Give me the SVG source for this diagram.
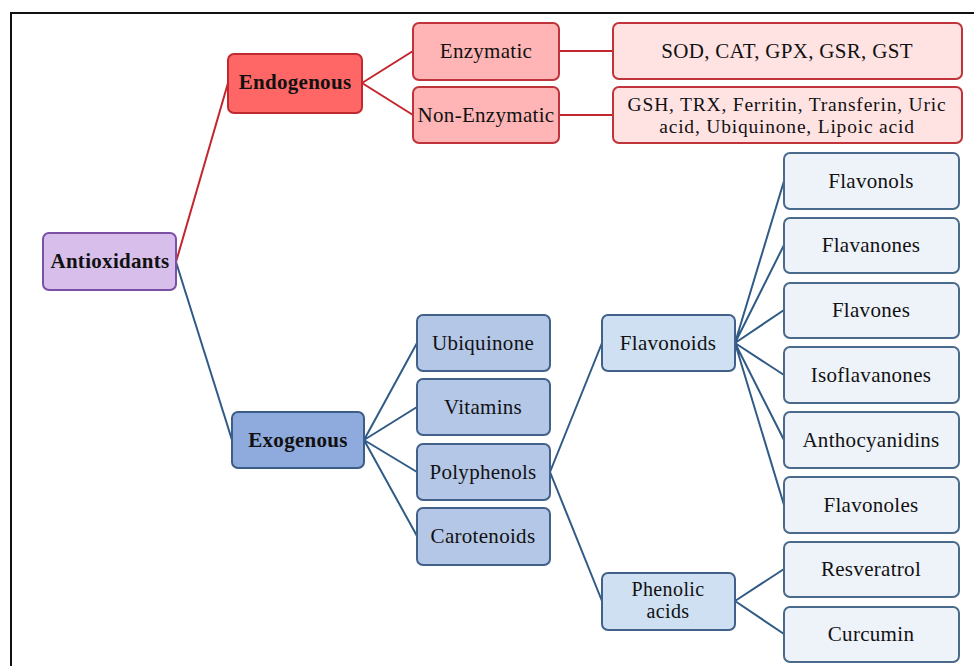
<svg xmlns="http://www.w3.org/2000/svg" width="974" height="666" viewBox="0 0 974 666">
<style>
text{font-family:'Liberation Serif','Times New Roman',Times,'DejaVu Serif',serif;font-size:21px;letter-spacing:0.3px;fill:#111;text-anchor:middle}
.b{font-weight:bold}
.t2{font-size:19.5px;letter-spacing:0.8px}
.t3{font-size:20px;letter-spacing:0.4px}
.n rect{rx:6;ry:6;stroke-width:2}
.purple rect{fill:#D8BFEB;stroke:#7B50A5}
.red1 rect{fill:#FF6666;stroke:#BE2A30}
.red2 rect{fill:#FFB5B5;stroke:#C0333A}
.red3 rect{fill:#FFE3E3;stroke:#C0333A}
.blue1 rect{fill:#8FAADC;stroke:#3C5D85}
.blue2 rect{fill:#B4C7E7;stroke:#41618A}
.blue3 rect{fill:#CFE0F2;stroke:#41618A}
.blue4 rect{fill:#EEF3FA;stroke:#4A6A8C}
.r{stroke:#C4242B;stroke-width:2;fill:none}
.l{stroke:#2F5B86;stroke-width:2;fill:none}
</style>
<path d="M11,666 V13 H974" fill="none" stroke="#111" stroke-width="2"/>
<g id="connectors">
<path class="r" d="M176,262 L228,83"/>
<path class="l" d="M176,262 L232,440"/>
<path class="r" d="M362,83 L413,51 M362,83 L413,115"/>
<path class="r" d="M559,51 L613,51 M559,115 L613,115"/>
<path class="l" d="M364,440 L417,343 M364,440 L417,407 M364,440 L417,472 M364,440 L417,536"/>
<path class="l" d="M550,472 L602,343 M550,472 L602,601"/>
<path class="l" d="M735,343 L784,181 M735,343 L784,245 M735,343 L784,310 M735,343 L784,375 M735,343 L784,440 M735,343 L784,505"/>
<path class="l" d="M735,601 L784,569 M735,601 L784,634"/>
</g>
<g id="antioxidants" class="n purple"><rect x="43" y="233" width="133" height="57"/><text class="b" x="110" y="268">Antioxidants</text></g>
<g id="endogenous" class="n red1"><rect x="228" y="54" width="134" height="59"/><text class="b" x="295" y="89">Endogenous</text></g>
<g id="enzymatic" class="n red2"><rect x="413" y="23" width="146" height="57"/><text x="486" y="58">Enzymatic</text></g>
<g id="nonenzymatic" class="n red2"><rect x="413" y="87" width="146" height="56"/><text x="486" y="122">Non-Enzymatic</text></g>
<g id="sod" class="n red3"><rect x="613" y="23" width="349" height="56"/><text x="787" y="58">SOD, CAT, GPX, GSR, GST</text></g>
<g id="gsh" class="n red3"><rect x="613" y="87" width="349" height="56"/><text class="t2" x="787" y="111">GSH, TRX, Ferritin, Transferin, Uric</text><text class="t2" x="787" y="133">acid, Ubiquinone, Lipoic acid</text></g>
<g id="exogenous" class="n blue1"><rect x="232" y="412" width="132" height="56"/><text class="b" x="298" y="447">Exogenous</text></g>
<g id="ubiquinone" class="n blue2"><rect x="417" y="315" width="133" height="56"/><text x="483" y="350">Ubiquinone</text></g>
<g id="vitamins" class="n blue2"><rect x="417" y="379" width="133" height="56"/><text x="483" y="414">Vitamins</text></g>
<g id="polyphenols" class="n blue2"><rect x="417" y="444" width="133" height="56"/><text x="483" y="479">Polyphenols</text></g>
<g id="carotenoids" class="n blue2"><rect x="417" y="508" width="133" height="57"/><text x="483" y="543">Carotenoids</text></g>
<g id="flavonoids" class="n blue3"><rect x="602" y="315" width="133" height="56"/><text x="668" y="350">Flavonoids</text></g>
<g id="phenolic" class="n blue3"><rect x="602" y="573" width="133" height="57"/><text class="t3" x="668" y="596">Phenolic</text><text class="t3" x="668" y="618">acids</text></g>
<g id="flavonols" class="n blue4"><rect x="784" y="153" width="175" height="56"/><text x="871" y="188">Flavonols</text></g>
<g id="flavanones" class="n blue4"><rect x="784" y="218" width="175" height="55"/><text x="871" y="252">Flavanones</text></g>
<g id="flavones" class="n blue4"><rect x="784" y="283" width="175" height="55"/><text x="871" y="317">Flavones</text></g>
<g id="isoflavanones" class="n blue4"><rect x="784" y="347" width="175" height="56"/><text x="871" y="382">Isoflavanones</text></g>
<g id="anthocyanidins" class="n blue4"><rect x="784" y="412" width="175" height="56"/><text x="871" y="447">Anthocyanidins</text></g>
<g id="flavonoles" class="n blue4"><rect x="784" y="477" width="175" height="56"/><text x="871" y="512">Flavonoles</text></g>
<g id="resveratrol" class="n blue4"><rect x="784" y="542" width="175" height="55"/><text x="871" y="576">Resveratrol</text></g>
<g id="curcumin" class="n blue4"><rect x="784" y="607" width="175" height="55"/><text x="871" y="641">Curcumin</text></g>
</svg>
